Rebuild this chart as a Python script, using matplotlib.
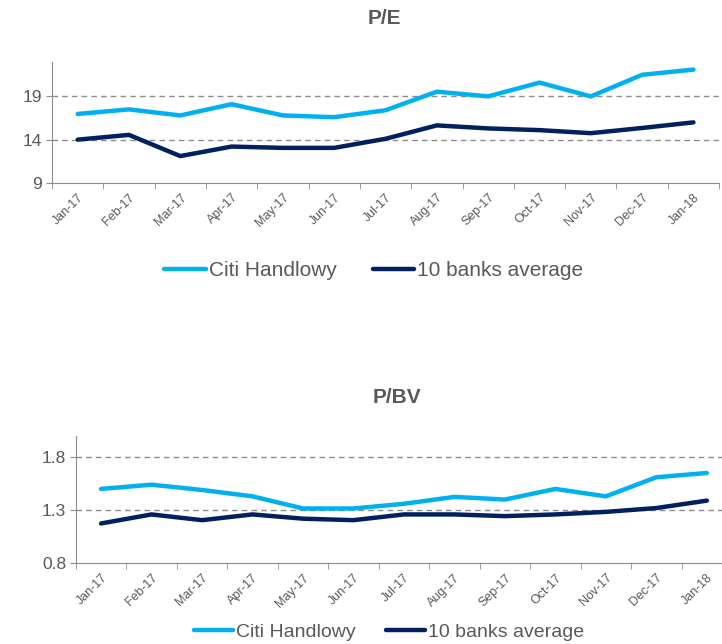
import matplotlib
matplotlib.use("Agg")
import matplotlib.pyplot as plt
from matplotlib import font_manager

months = ["Jan-17", "Feb-17", "Mar-17", "Apr-17", "May-17", "Jun-17", "Jul-17",
          "Aug-17", "Sep-17", "Oct-17", "Nov-17", "Dec-17", "Jan-18"]

pe_citi = [16.97, 17.5, 16.8, 18.1, 16.8, 16.6, 17.4, 19.55, 19.0, 20.6, 19.0, 21.5, 22.1]
pe_banks = [14.0, 14.55, 12.1, 13.2, 13.05, 13.05, 14.1, 15.65, 15.3, 15.1, 14.75, 15.35, 16.0]

pbv_citi = [1.50, 1.54, 1.49, 1.43, 1.316, 1.316, 1.36, 1.425, 1.40, 1.50, 1.43, 1.61, 1.65]
pbv_banks = [1.175, 1.26, 1.206, 1.26, 1.22, 1.206, 1.26, 1.26, 1.244, 1.26, 1.284, 1.32, 1.39]

series_names = ["Citi Handlowy", "10 banks average"]
light_blue = "#00B0F0"
navy = "#002060"
grey_txt = "#595959"

names = {f.name for f in font_manager.fontManager.ttflist}
fam = "Liberation Sans Narrow" if "Liberation Sans Narrow" in names else "Liberation Sans"
plt.rcParams['font.family'] = [fam, 'DejaVu Sans']


def draw(ax, citi, banks, ylim, yticks, fmt):
    x = list(range(len(months)))
    ax.plot(x, citi, color=light_blue, lw=3.2, solid_capstyle='round', label=series_names[0])
    ax.plot(x, banks, color=navy, lw=3.2, solid_capstyle='round', label=series_names[1])
    ax.set_xlim(-0.5, len(months) - 0.5)
    ax.set_ylim(*ylim)
    ax.set_yticks(yticks)
    ax.set_yticklabels([fmt.format(v) for v in yticks], fontsize=12.5, color=grey_txt)
    for v in yticks[1:]:
        ax.axhline(v, color="#8c8c8c", lw=1, ls=(0, (4, 3)), zorder=0)
    ax.set_xticks(x)
    ax.set_xticklabels(months, rotation=45, fontsize=9, color=grey_txt,
                       ha='right', va='top', rotation_mode='anchor')
    ax.set_xticks([i - 0.5 for i in range(len(months) + 1)], minor=True)
    ax.tick_params(axis='x', which='major', length=0, pad=6)
    ax.tick_params(axis='x', which='minor', length=4, color="#8c8c8c")
    ax.tick_params(axis='y', length=4, color="#8c8c8c", pad=3)
    for s in ['top', 'right']:
        ax.spines[s].set_visible(False)
    for s in ['left', 'bottom']:
        ax.spines[s].set_color("#8c8c8c")
    ax.patch.set_alpha(0)


fig = plt.figure(figsize=(7.22, 6.44), dpi=100)

ax1 = fig.add_axes([0.072, 0.716, 0.924, 0.188])
draw(ax1, pe_citi, pe_banks, (9, 23), [9, 14, 19], "{:g}")
fig.text(0.533, 0.972, "P/E", ha='center', va='center', fontsize=15,
         fontweight='bold', color=grey_txt, family='Liberation Sans')
ax1.legend(loc='center', bbox_to_anchor=(0.518, 0.58), bbox_transform=fig.transFigure,
           ncol=2, frameon=False, fontsize=15, handlelength=2.0, handletextpad=0.15,
           columnspacing=1.7, labelcolor=grey_txt)

ax2 = fig.add_axes([0.105, 0.1253, 0.909, 0.198])
draw(ax2, pbv_citi, pbv_banks, (0.8, 2.0), [0.8, 1.3, 1.8], "{:.1f}")
fig.text(0.55, 0.382, "P/BV", ha='center', va='center', fontsize=15,
         fontweight='bold', color=grey_txt, family='Liberation Sans')
ax2.legend(loc='center', bbox_to_anchor=(0.539, 0.019), bbox_transform=fig.transFigure,
           ncol=2, frameon=False, fontsize=14, handlelength=2.0, handletextpad=0.15,
           columnspacing=1.55, labelcolor=grey_txt)

fig.savefig("out.png", dpi=100)
